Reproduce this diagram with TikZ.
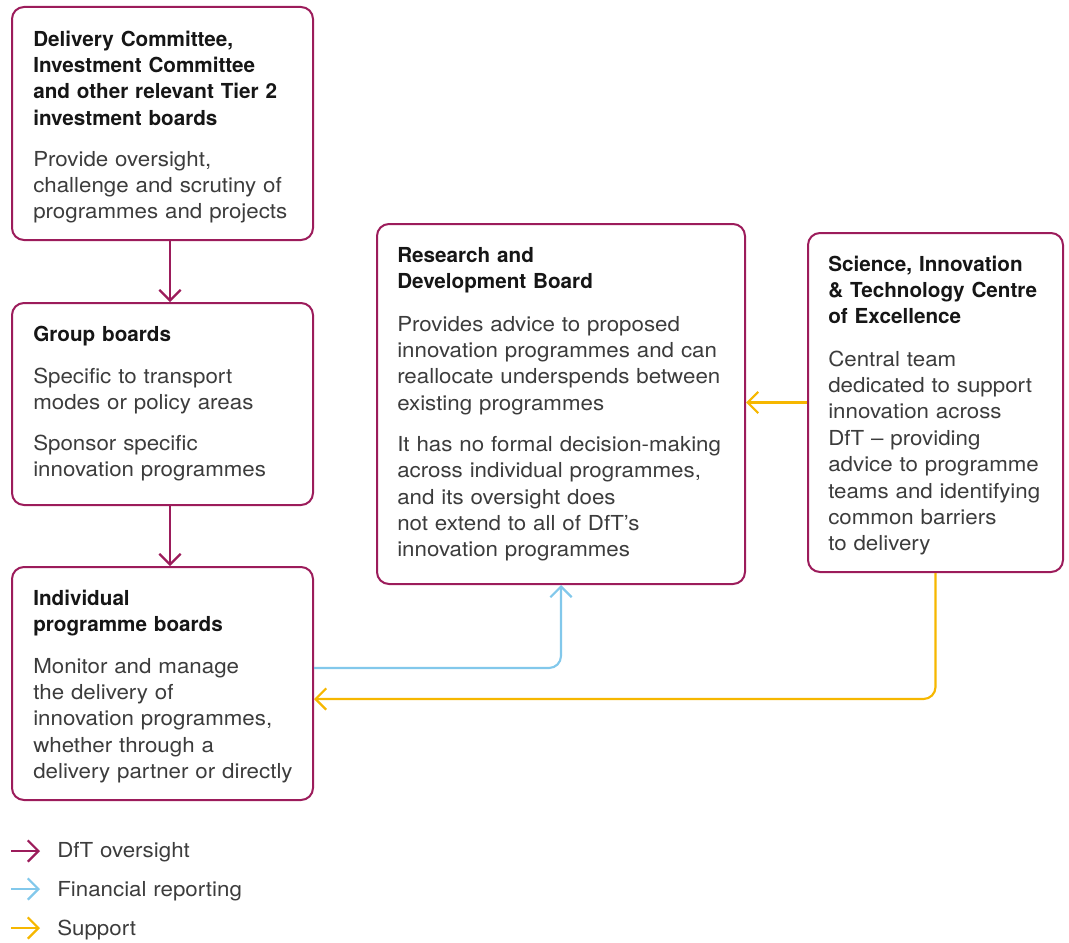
\documentclass[tikz,border=0pt]{standalone}
\usepackage{fontspec}
\setmainfont{TeX Gyre Heros}
\newfontfamily\bodyfam[FakeStretch=1.08]{TeX Gyre Heros}
\usetikzlibrary{arrows.meta,calc}

\definecolor{dftmag}{HTML}{9C1C5B}
\definecolor{finblue}{HTML}{82C8EB}
\definecolor{supyellow}{HTML}{F6B700}
\definecolor{titleink}{HTML}{161616}
\definecolor{bodyink}{HTML}{3C3C3C}

\newdimen\pu
\pu=0.75pt

\tikzset{
  board/.style={draw=dftmag, line width=1.5pt, rounded corners=9pt, fill=white,
    inner sep=0pt},
  boardtitle/.style={anchor=base west, inner sep=0pt, text width=250pt, align=left,
    text=titleink, font=\fontsize{15.5pt}{19.8pt}\selectfont\bfseries},
  boardbody/.style={anchor=base west, inner sep=0pt, text width=250pt, align=left,
    text=bodyink, font=\bodyfam\fontsize{15.5pt}{19.8pt}\selectfont},
  link/.style={line width=1.6pt, rounded corners=9pt,
    -{Straight Barb[length=8pt,width=16pt,line width=1.6pt]}},
  oversight/.style={link, draw=dftmag},
  financial/.style={link, draw=finblue},
  supportlink/.style={link, draw=supyellow},
}

\begin{document}
\begin{tikzpicture}[x=0.75pt, y=-0.75pt]
\useasboundingbox (0,0) rectangle (1069,942);

% boards
\node[board, minimum width=301\pu, minimum height=233\pu] (b1) at (162.5,123.5) {};
\node[board, minimum width=301\pu, minimum height=202\pu] (b2) at (162.5,404) {};
\node[board, minimum width=301\pu, minimum height=233\pu] (b3) at (162.5,683.5) {};
\node[board, minimum width=368\pu, minimum height=360\pu] (b4) at (561,404) {};
\node[board, minimum width=255\pu, minimum height=339\pu] (b5) at (935.5,402.5) {};

% board texts
\node[boardtitle] (b1t) at (33,46) {Delivery Committee,\\Investment Committee\\and other relevant Tier 2\\investment boards};
\node[boardbody] (b1d) at (33,166) {Provide oversight,\\challenge and scrutiny of\\programmes and projects};

\node[boardtitle] (b2t) at (33,341) {Group boards};
\node[boardbody] (b2d) at (33,383) {Specific to transport\\modes or policy areas\\[11pt]Sponsor specific\\innovation programmes};

\node[boardtitle] (b3t) at (33,605) {Individual\\programme boards};
\node[boardbody] (b3d) at (33,673) {Monitor and manage\\the delivery of\\innovation programmes,\\whether through a\\delivery partner or directly};

\node[boardtitle] (b4t) at (397,262) {Research and\\Development Board};
\node[boardbody] (b4d) at (397,331) {Provides advice to proposed\\innovation programmes and can\\reallocate underspends between\\existing programmes\\[11pt]It has no formal decision-making\\across individual programmes,\\and its oversight does\\not extend to all of DfT’s\\innovation programmes};

\node[boardtitle] (b5t) at (828,271) {Science, Innovation\\\& Technology Centre\\of Excellence};
\node[boardbody] (b5d) at (828,366) {Central team\\dedicated to support\\innovation across\\DfT – providing\\advice to programme\\teams and identifying\\common barriers\\to delivery};

% connectors (the vertical chain runs slightly right of the board centres)
\draw[oversight] ($(b1.south)+(7.5,0)$) -- ($(b2.north)+(7.5,0)$);
\draw[oversight] ($(b2.south)+(7.5,0)$) -- ($(b3.north)+(7.5,0)$);
\draw[financial] ($(b3.north east)+(0,102)$) -| (b4.south);
\draw[supportlink] (b5.south) |- ($(b3.north east)+(0,133)$);
\draw[supportlink] (b5.west) -- (b5.west -| b4.east);

% legend
\coordinate (k1a) at (11,851); \coordinate (k1b) at (40,851);
\coordinate (k2a) at (11,889); \coordinate (k2b) at (40,889);
\coordinate (k3a) at (11,928); \coordinate (k3b) at (40,928);
\draw[oversight] (k1a) -- (k1b);
\draw[financial] (k2a) -- (k2b);
\draw[supportlink] (k3a) -- (k3b);
\node[boardbody] (k1) at (57,857) {DfT oversight};
\node[boardbody] (k2) at (57,896) {Financial reporting};
\node[boardbody] (k3) at (57,935) {Support};
\end{tikzpicture}
\end{document}
